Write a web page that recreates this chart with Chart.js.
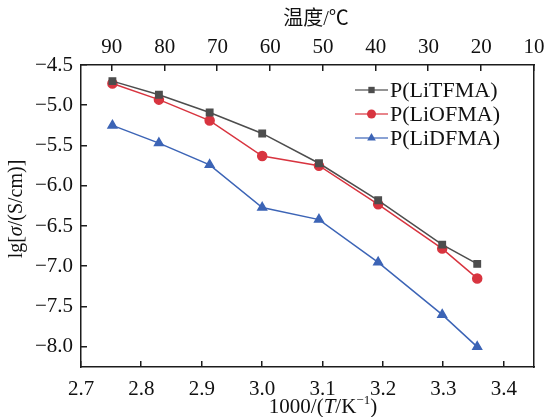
<!DOCTYPE html>
<html>
<head>
<meta charset="utf-8">
<script src="https://cdn.jsdelivr.net/npm/chart.js@4"></script>
<style>
  body { margin: 0; background: #fff; }
  #wrap { width: 547px; height: 417px; }
</style>
</head>
<body>
<div id="wrap"><canvas id="myChart" width="547" height="417"></canvas></div>
<script>
// 1000/T values (bottom axis) and lg(sigma) for each polymer
var invT = [2.752, 2.829, 2.913, 3.000, 3.094, 3.192, 3.298, 3.356];
var tfma = [-4.70, -4.87, -5.09, -5.35, -5.72, -6.18, -6.73, -6.97];
var ofma = [-4.73, -4.93, -5.19, -5.63, -5.75, -6.23, -6.78, -7.15];
var dfma = [-5.25, -5.47, -5.74, -6.27, -6.42, -6.95, -7.60, -8.00];
var seriesNames = ['P(LiTFMA)', 'P(LiOFMA)', 'P(LiDFMA)'];
var xTicks = [2.7, 2.8, 2.9, 3.0, 3.1, 3.2, 3.3, 3.4];
var yTicks = [-8.0, -7.5, -7.0, -6.5, -6.0, -5.5, -5.0, -4.5];
var tempTicks = [90, 80, 70, 60, 50, 40, 30, 20, 10];

var SERIF = '"Liberation Serif", "Times New Roman", "Noto Sans CJK SC", serif';

function pts(ys) {
    return invT.map(function (x, i) { return { x: x, y: ys[i] }; });
}

function asTicks(vals) {
    return vals.map(function (v) { return { value: v }; });
}

function drawMarker(ctx, style, x, y, r, color) {
    ctx.fillStyle = color;
    ctx.beginPath();
    if (style === 'rect') {
        var s = r * Math.SQRT1_2;
        ctx.rect(x - s, y - s, 2 * s, 2 * s);
    } else if (style === 'triangle') {
        ctx.moveTo(x, y - r);
        ctx.lineTo(x + r * 0.866, y + r * 0.5);
        ctx.lineTo(x - r * 0.866, y + r * 0.5);
        ctx.closePath();
    } else {
        ctx.arc(x, y, r, 0, Math.PI * 2);
    }
    ctx.fill();
}

// draws a line of text made of parts with their own font / raise
function drawRich(ctx, parts, cx, cy) {
    var total = 0;
    parts.forEach(function (p) { ctx.font = p.font; p.w = ctx.measureText(p.t).width; total += p.w; });
    var x = cx - total / 2;
    ctx.textAlign = 'left';
    ctx.textBaseline = 'middle';
    parts.forEach(function (p) {
        ctx.font = p.font;
        ctx.fillText(p.t, x, cy - (p.rise || 0));
        x += p.w;
    });
}

var framePlugin = {
    id: 'frame',
    afterDraw: function (chart) {
        var ctx = chart.ctx;
        var sx = chart.scales.x, sy = chart.scales.y, st = chart.scales.x2;
        var L = Math.round(sx.getPixelForValue(2.7)), R = Math.round(sx.getPixelForValue(3.45));
        var T = Math.round(sy.getPixelForValue(-4.5)), B = Math.round(sy.getPixelForValue(-8.25));
        var w = 1.5;
        ctx.save();
        ctx.fillStyle = '#1c1c1c';
        // frame
        ctx.fillRect(L - 1, T - 1, R - L + 2, w);
        ctx.fillRect(L - 1, B - 1, R - L + 2, w);
        ctx.fillRect(L - 1, T - 1, w, B - T + 2);
        ctx.fillRect(R - 1, T - 1, w, B - T + 2);
        // inward ticks
        xTicks.forEach(function (v) {
            var p = Math.round(sx.getPixelForValue(v));
            ctx.fillRect(p - 1, B - 6, w, 6);
        });
        tempTicks.forEach(function (v) {
            var p = Math.round(st.getPixelForValue(v));
            ctx.fillRect(p - 1, T, w, 6);
        });
        yTicks.forEach(function (v) {
            var p = Math.round(sy.getPixelForValue(v));
            ctx.fillRect(L, p - 1, 6, w);
        });

        // axis titles
        ctx.fillStyle = '#111';
        drawRich(ctx, [
            { t: '1000/(', font: '21px ' + SERIF },
            { t: 'T', font: 'italic 21px ' + SERIF },
            { t: '/K', font: '21px ' + SERIF },
            { t: '\u22121', font: '13px ' + SERIF, rise: 6 },
            { t: ')', font: '21px ' + SERIF }
        ], 323, 407);
        drawRich(ctx, [{ t: '温度/℃', font: '20px ' + SERIF }], 316, 20);
        ctx.save();
        ctx.translate(17, 209);
        ctx.rotate(-Math.PI / 2);
        drawRich(ctx, [
            { t: 'lg[', font: '20px ' + SERIF },
            { t: 'σ', font: 'italic 20px ' + SERIF },
            { t: '/(S/cm)]', font: '20px ' + SERIF }
        ], 0, 0);
        ctx.restore();

        // legend: line + marker + label
        chart.data.datasets.forEach(function (ds, i) {
            var y = 90 + i * 24;
            ctx.globalAlpha = 0.8;
            ctx.fillStyle = ds.borderColor;
            ctx.fillRect(355, y - 0.75, 33, 1.5);
            ctx.globalAlpha = 1;
            drawMarker(ctx, ds.pointStyle, 371.5, y, ds.pointRadius, ds.backgroundColor);
            ctx.fillStyle = '#111';
            ctx.font = '22px ' + SERIF;
            ctx.textAlign = 'left';
            ctx.textBaseline = 'middle';
            ctx.fillText(ds.label, 390, y + 1);
        });
        ctx.restore();
    }
};

var ctx1 = document.getElementById('myChart').getContext('2d');
var tickFont = { family: SERIF, size: 21 };
var noGrid = { display: false, drawTicks: false };
var myChart = new Chart(ctx1, {
    type: 'line',
    data: {
        datasets: [{
            label: seriesNames[0],
            data: pts(tfma),
            borderColor: '#4d4d4d',
            backgroundColor: '#4d4d4d',
            pointStyle: 'rect',
            pointRadius: 4.5,
            borderWidth: 1.5
        }, {
            label: seriesNames[1],
            data: pts(ofma),
            borderColor: '#d8343f',
            backgroundColor: '#d8343f',
            pointStyle: 'circle',
            pointRadius: 4.5,
            borderWidth: 1.5
        }, {
            label: seriesNames[2],
            data: pts(dfma),
            borderColor: '#3c64b6',
            backgroundColor: '#3c64b6',
            pointStyle: 'triangle',
            pointRadius: 5,
            borderWidth: 1.5
        }]
    },
    options: {
        responsive: false,
        animation: false,
        layout: { padding: { right: 13 } },
        plugins: { legend: { display: false }, tooltip: { enabled: false } },
        elements: { line: { tension: 0 }, point: { borderWidth: 0 } },
        scales: {
            x: {
                type: 'linear', position: 'bottom', min: 2.7, max: 3.45,
                grid: noGrid, border: { display: false },
                ticks: { padding: 10, color: '#111', font: tickFont, autoSkip: false, maxRotation: 0,
                    callback: function (v) { return v.toFixed(1); } },
                afterBuildTicks: function (s) { s.ticks = asTicks(xTicks); },
                afterFit: function (s) { s.height = 50; s.paddingLeft = 0; s.paddingRight = 0; }
            },
            x2: {
                type: 'linear', position: 'top', display: true, reverse: true, min: 10, max: 95.85,
                grid: noGrid, border: { display: false },
                ticks: { padding: 5, color: '#111', font: tickFont, autoSkip: false, maxRotation: 0,
                    callback: function (v) { return String(v); } },
                afterBuildTicks: function (s) { s.ticks = asTicks(tempTicks); },
                afterFit: function (s) { s.height = 65; s.paddingLeft = 0; s.paddingRight = 0; }
            },
            y: {
                type: 'linear', min: -8.25, max: -4.5,
                grid: noGrid, border: { display: false },
                ticks: { padding: 8, color: '#111', font: tickFont, autoSkip: false,
                    callback: function (v) { return (v < 0 ? '\u2212' : '') + Math.abs(v).toFixed(1); } },
                afterBuildTicks: function (s) { s.ticks = asTicks(yTicks); },
                afterFit: function (s) { s.width = 81; }
            }
        }
    },
    plugins: [framePlugin]
});
</script>
</body>
</html>
